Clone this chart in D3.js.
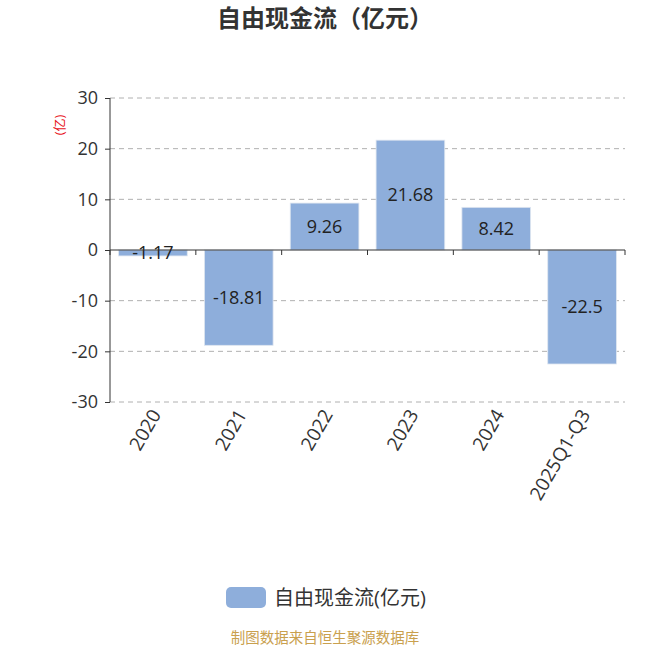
<!DOCTYPE html>
<html>
<head>
<meta charset="utf-8">
<script src="https://cdn.jsdelivr.net/npm/d3@7"></script>
<style>
  body { margin: 0; background: #fff; }
  text { font-family: "Open Sans", "Noto Sans CJK SC", sans-serif; }
</style>
</head>
<body>
<div id="chart"></div>
<script>
var categories = ['2020', '2021', '2022', '2023', '2024', '2025Q1-Q3'];
var values = [-1.17, -18.81, 9.26, 21.68, 8.42, -22.5];
var yTicks = [-30, -20, -10, 0, 10, 20, 30];

var width = 650, height = 650;
var plotLeft = 110, plotRight = 625, plotTop = 98, plotBottom = 402;
var cjk = '"Noto Sans CJK SC", sans-serif';

var svg = d3.select('#chart').append('svg')
  .attr('width', width)
  .attr('height', height);

var x = d3.scaleBand()
  .domain(categories)
  .range([plotLeft, plotRight])
  .paddingInner(0.2)
  .paddingOuter(0.1);

var y = d3.scaleLinear()
  .domain([-30, 30])
  .range([plotBottom, plotTop]);

// grid lines
svg.append('g').selectAll('line')
  .data(yTicks.filter(d => d !== 0))
  .enter().append('line')
  .attr('x1', plotLeft).attr('x2', plotRight)
  .attr('y1', d => y(d)).attr('y2', d => y(d))
  .attr('stroke', '#b0b0b0')
  .attr('stroke-dasharray', '5,4');

// bars
svg.append('g').selectAll('rect')
  .data(values)
  .enter().append('rect')
  .attr('x', (d, i) => x(categories[i]))
  .attr('width', x.bandwidth())
  .attr('y', d => y(Math.max(0, d)))
  .attr('height', d => Math.abs(y(d) - y(0)))
  .attr('fill', '#8eaedb')
  .attr('stroke', '#dfe6f0')
  .attr('stroke-width', 0.8);

// value labels
svg.append('g').selectAll('text')
  .data(values)
  .enter().append('text')
  .attr('x', (d, i) => x(categories[i]) + x.bandwidth() / 2)
  .attr('y', d => (y(d) + y(0)) / 2)
  .attr('dy', '0.35em')
  .attr('text-anchor', 'middle')
  .attr('font-size', 18)
  .attr('fill', '#222')
  .text(d => d);

// y axis
var yAxis = svg.append('g')
  .attr('transform', 'translate(' + plotLeft + ',0)')
  .call(d3.axisLeft(y).tickValues(yTicks).tickFormat(d => String(d)).tickSize(5).tickPadding(7));
yAxis.select('.domain').attr('stroke', '#333').attr('d', 'M0,' + plotTop + 'V' + plotBottom);
yAxis.selectAll('.tick line').attr('stroke', '#333');
yAxis.selectAll('.tick text')
  .attr('font-size', 18)
  .attr('fill', '#333')
  .attr('font-family', '"Open Sans", sans-serif');

// x axis at zero
var xTickPos = categories.map(c => x(c) - x.step() * x.paddingInner() / 2).concat([plotRight]);
svg.append('line')
  .attr('x1', plotLeft).attr('x2', plotRight)
  .attr('y1', y(0)).attr('y2', y(0))
  .attr('stroke', '#333');
svg.append('g').selectAll('line')
  .data(xTickPos)
  .enter().append('line')
  .attr('x1', d => d).attr('x2', d => d)
  .attr('y1', y(0)).attr('y2', y(0) + 5)
  .attr('stroke', '#333');

// category labels
svg.append('g').selectAll('text')
  .data(categories)
  .enter().append('text')
  .attr('transform', d => 'translate(' + (x(d) + x.bandwidth() / 2 + 3) + ',' + (plotBottom + 9) + ') rotate(-60)')
  .attr('text-anchor', 'end')
  .attr('dy', '0.35em')
  .attr('font-size', 19)
  .attr('fill', '#333')
  .text(d => d);

// unit label
svg.append('text')
  .attr('transform', 'translate(64,125) rotate(-90)')
  .attr('text-anchor', 'middle')
  .attr('font-size', 13)
  .attr('fill', '#e8141c')
  .attr('font-family', cjk)
  .text('(亿)');

// title
svg.append('text')
  .attr('x', 325).attr('y', 27)
  .attr('text-anchor', 'middle')
  .attr('font-size', 24)
  .attr('font-weight', 'bold')
  .attr('fill', '#333')
  .attr('font-family', cjk)
  .text('自由现金流（亿元）');

// legend
svg.append('rect')
  .attr('x', 226).attr('y', 587)
  .attr('width', 40).attr('height', 21)
  .attr('rx', 5)
  .attr('fill', '#8eaedb');
svg.append('text')
  .attr('x', 274).attr('y', 598)
  .attr('dy', '0.35em')
  .attr('font-size', 20)
  .attr('fill', '#333')
  .attr('font-family', cjk)
  .text('自由现金流(亿元)');

// source
svg.append('text')
  .attr('x', 325).attr('y', 643)
  .attr('text-anchor', 'middle')
  .attr('font-size', 14.5)
  .attr('fill', '#c9a04e')
  .attr('font-family', cjk)
  .text('制图数据来自恒生聚源数据库');
</script>
</body>
</html>
